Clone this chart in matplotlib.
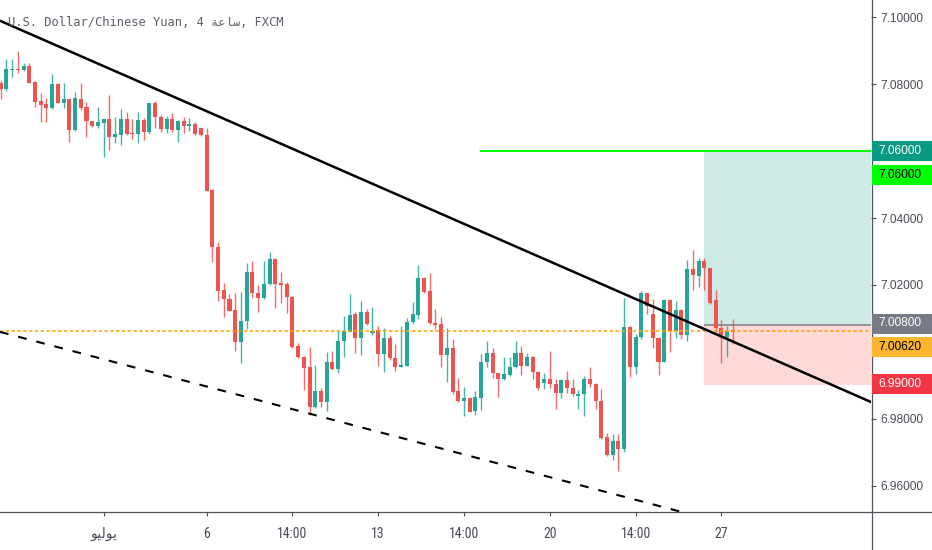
import matplotlib
matplotlib.use('Agg')
import matplotlib.pyplot as plt
import numpy as np
from matplotlib.patches import Rectangle
from matplotlib.lines import Line2D
from matplotlib import font_manager

# ---------------- data (USD/CNH, 4h candles) ----------------
opens = [7.0805, 7.0786, 7.0843, 7.0847, 7.0843, 7.0855, 7.0807, 7.0750, 7.0741, 7.0728,
         7.0802, 7.0745, 7.0755, 7.0663, 7.0757, 7.0731, 7.0690, 7.0675, 7.0685, 7.0696,
         7.0641, 7.0648, 7.0696, 7.0655, 7.0651, 7.0693, 7.0656, 7.0743, 7.0701, 7.0666,
         7.0696, 7.0663, 7.0690, 7.0676, 7.0680, 7.0668, 7.0648, 7.0484, 7.0313, 7.0185,
         7.0159, 7.0125, 7.0029, 7.0092, 7.0240, 7.0175, 7.0160, 7.0203, 7.0278, 7.0207,
         7.0204, 7.0165, 7.0017, 6.9985, 6.9955, 6.9836, 6.9883, 6.9849, 6.9970, 6.9949,
         7.0032, 7.0060, 7.0112, 7.0040, 7.0118, 7.0055, 7.0065, 6.9994, 7.0042, 6.9982,
         6.9956, 6.9959, 7.0088, 7.0110, 7.0222, 7.0182, 7.0087, 7.0083, 6.9991, 7.0011,
         6.9883, 6.9854, 6.9863, 6.9823, 6.9861, 6.9969, 6.9996, 6.9936, 6.9918, 6.9931,
         6.9954, 6.9997, 6.9959, 6.9985, 6.9941, 6.9906, 6.9919, 6.9904, 6.9878, 6.9916,
         6.9891, 6.9869, 6.9873, 6.9919, 6.9904, 6.9854, 6.9744, 6.9692, 6.9734, 6.9709,
         7.0073, 6.9956, 7.0043, 7.0175, 7.0112, 7.0042, 6.9971, 7.0155, 7.0062, 7.0125,
         7.0050, 7.0248, 7.0228, 7.0272, 7.0250, 7.0155, 7.0070, 7.0043, 7.0065]
highs = [7.0813, 7.0876, 7.0876, 7.0900, 7.0865, 7.0865, 7.0809, 7.0773, 7.0759, 7.0830,
         7.0803, 7.0803, 7.0756, 7.0776, 7.0803, 7.0748, 7.0691, 7.0731, 7.0697, 7.0768,
         7.0701, 7.0725, 7.0718, 7.0696, 7.0718, 7.0698, 7.0744, 7.0750, 7.0708, 7.0705,
         7.0715, 7.0693, 7.0701, 7.0698, 7.0688, 7.0670, 7.0668, 7.0486, 7.0328, 7.0205,
         7.0173, 7.0175, 7.0178, 7.0267, 7.0272, 7.0200, 7.0272, 7.0298, 7.0280, 7.0238,
         7.0210, 7.0167, 7.0027, 6.9986, 7.0014, 6.9961, 6.9893, 7.0000, 7.0003, 7.0062,
         7.0107, 7.0172, 7.0120, 7.0152, 7.0127, 7.0133, 7.0077, 7.0070, 7.0050, 7.0023,
         7.0077, 7.0100, 7.0150, 7.0260, 7.0225, 7.0235, 7.0127, 7.0105, 7.0070, 7.0037,
         6.9921, 6.9896, 6.9866, 6.9883, 6.9993, 7.0033, 7.0011, 6.9938, 6.9985, 6.9985,
         7.0032, 7.0017, 6.9997, 6.9987, 6.9944, 6.9938, 7.0003, 6.9918, 6.9918, 6.9944,
         6.9918, 6.9886, 6.9929, 6.9954, 6.9906, 6.9888, 6.9758, 6.9754, 6.9754, 7.0162,
         7.0077, 7.0052, 7.0182, 7.0177, 7.0158, 7.0043, 7.0157, 7.0157, 7.0152, 7.0127,
         7.0275, 7.0305, 7.0280, 7.0280, 7.0252, 7.0185, 7.0095, 7.0077, 7.0098]
lows = [7.0756, 7.0781, 7.0823, 7.0834, 7.0840, 7.0803, 7.0733, 7.0688, 7.0688, 7.0726,
        7.0743, 7.0728, 7.0628, 7.0661, 7.0723, 7.0641, 7.0673, 7.0668, 7.0584, 7.0604,
        7.0624, 7.0618, 7.0648, 7.0636, 7.0625, 7.0633, 7.0650, 7.0668, 7.0656, 7.0655,
        7.0658, 7.0628, 7.0653, 7.0660, 7.0648, 7.0646, 7.0480, 7.0270, 7.0153, 7.0103,
        7.0121, 7.0003, 6.9966, 7.0067, 7.0160, 7.0120, 7.0158, 7.0200, 7.0132, 7.0147,
        7.0115, 7.0012, 6.9982, 6.9886, 6.9811, 6.9831, 6.9836, 6.9824, 6.9947, 6.9938,
        6.9984, 7.0058, 6.9996, 6.9991, 7.0080, 7.0050, 6.9958, 6.9941, 6.9976, 6.9944,
        6.9954, 6.9957, 7.0083, 7.0098, 7.0175, 7.0083, 7.0067, 6.9956, 6.9911, 6.9874,
        6.9851, 6.9808, 6.9819, 6.9811, 6.9826, 6.9954, 6.9921, 6.9866, 6.9916, 6.9928,
        6.9952, 6.9931, 6.9958, 6.9918, 6.9886, 6.9888, 6.9891, 6.9829, 6.9861, 6.9876,
        6.9869, 6.9829, 6.9809, 6.9894, 6.9829, 6.9739, 6.9689, 6.9677, 6.9645, 6.9700,
        6.9924, 6.9934, 7.0037, 7.0113, 7.0012, 6.9931, 6.9969, 7.0000, 7.0040, 7.0038,
        7.0032, 7.0185, 7.0195, 7.0185, 7.0142, 7.0060, 6.9966, 6.9984, 7.0022]
closes = [7.0786, 7.0845, 7.0847, 7.0843, 7.0855, 7.0805, 7.0748, 7.0738, 7.0729, 7.0800,
          7.0745, 7.0755, 7.0663, 7.0759, 7.0728, 7.0689, 7.0676, 7.0687, 7.0696, 7.0641,
          7.0650, 7.0695, 7.0650, 7.0650, 7.0693, 7.0656, 7.0743, 7.0701, 7.0666, 7.0696,
          7.0663, 7.0690, 7.0676, 7.0681, 7.0650, 7.0648, 7.0482, 7.0313, 7.0183, 7.0157,
          7.0123, 7.0029, 7.0093, 7.0240, 7.0175, 7.0160, 7.0203, 7.0278, 7.0203, 7.0201,
          7.0163, 7.0014, 6.9984, 6.9953, 6.9836, 6.9883, 6.9849, 6.9970, 6.9949, 7.0032,
          7.0062, 7.0110, 7.0040, 7.0118, 7.0083, 7.0063, 6.9994, 7.0042, 6.9981, 6.9956,
          6.9961, 7.0090, 7.0112, 7.0222, 7.0180, 7.0085, 7.0080, 6.9991, 7.0011, 6.9879,
          6.9854, 6.9863, 6.9821, 6.9864, 6.9970, 6.9996, 6.9936, 6.9918, 6.9933, 6.9954,
          6.9997, 6.9959, 6.9985, 6.9941, 6.9893, 6.9919, 6.9903, 6.9878, 6.9916, 6.9891,
          6.9873, 6.9873, 6.9919, 6.9903, 6.9853, 6.9742, 6.9692, 6.9734, 6.9709, 7.0073,
          6.9956, 7.0045, 7.0175, 7.0138, 7.0040, 6.9971, 7.0155, 7.0062, 7.0125, 7.0050,
          7.0248, 7.0230, 7.0272, 7.0250, 7.0145, 7.0070, 7.0050, 7.0063, 7.0058]

# axis ticks / labels
xtick_bars = [18, 36, 51, 66, 81, 96, 111, 126]
xtick_labels = ['ﻮﻴﻟﻮﻳ', '6', '14:00', '13', '14:00', '20', '14:00', '27']
ytick_values = [7.10, 7.08, 7.04, 7.02, 6.98, 6.96]

# drawings (price levels and trend-line anchors)
target_price = 7.06
entry_price = 7.008
stop_price = 6.99
hline_price = 7.0062
green_line_start = 83.8
box_start = 122.95
upper_trend = [(0, 7.0989), (150, 6.9866)]
lower_trend = [(0, 7.0059), (110, 6.9562)]

# right-side price labels: (text, face, text colour, center px from top)
price_labels = [
    ('7.06000', '#089981', 'white', 151),
    ('7.06000', '#00ff00', 'black', 175),
    ('7.00800', '#787b86', 'white', 323.5),
    ('7.00620', '#fbb52f', 'black', 346.5),
    ('6.99000', '#f23645', 'white', 384),
]

title = 'U.S. Dollar/Chinese Yuan, 4 ' + 'ﺔﻋﺎﺳ' + ', FXCM'

# pick a narrow font for the time axis if one is installed
available = {f.name for f in font_manager.fontManager.ttflist}
narrow = [n for n in ['Liberation Sans Narrow', 'DejaVu Sans Condensed', 'Roboto Condensed']
          if n in available]
xfamily = narrow + ['DejaVu Sans']
xsize = 10 if narrow else 9.5

# ---------------- figure ----------------
W, H = 932, 550
fig = plt.figure(figsize=(W / 100, H / 100), dpi=100)
fig.patch.set_facecolor('white')
ax = fig.add_axes([0, 38 / H, 871 / W, 512 / H])
XMIN, XMAX = -0.122, 152.15
YMIN, YMAX = 6.9521, 7.1052
ax.set_xlim(XMIN, XMAX)
ax.set_ylim(YMIN, YMAX)
for s in ax.spines.values():
    s.set_visible(False)

o = np.array(opens)
hi = np.array(highs)
lo = np.array(lows)
c = np.array(closes)
x = np.arange(len(o))
up = c >= o
cols = np.where(up, '#26a69a', '#ef5350')

# position box
ax.add_patch(Rectangle((box_start, entry_price), XMAX - box_start, target_price - entry_price,
                       facecolor='#cdeae6', edgecolor='none', zorder=1))
ax.add_patch(Rectangle((box_start, stop_price), XMAX - box_start, entry_price - stop_price,
                       facecolor='#fdd9d8', edgecolor='none', zorder=1))
ax.hlines(entry_price, box_start, XMAX, color='#8a8d97', lw=1.3, zorder=2)

# candles
ax.vlines(x, lo, hi, colors=cols, lw=1.0, alpha=0.85, zorder=3)
body_b = np.minimum(o, c)
body_h = np.maximum(np.abs(c - o), 0.0003)
ax.bar(x, body_h, width=0.7, bottom=body_b, color=cols, linewidth=0, zorder=4)

# drawings
ax.axhline(hline_price, color='#ffa000', lw=1.1, ls=(0, (2.2, 1.6)), zorder=5)
ax.hlines(target_price, green_line_start, XMAX, color='#00ff00', lw=1.5, zorder=5)
ax.axline(upper_trend[0], upper_trend[1], color='black', lw=1.8, zorder=6)
ax.axline(lower_trend[0], lower_trend[1], color='black', lw=1.5, ls=(0, (4.2, 4.8)), zorder=6)

# ticks
ax.yaxis.tick_right()
ax.set_yticks(ytick_values)
ax.set_yticklabels(['%.5f' % v for v in ytick_values], family=['Liberation Sans', 'DejaVu Sans'])
ax.tick_params(axis='y', length=3.5, width=0.8, color='#50535e', pad=3, labelsize=8.6,
               labelcolor='#4a4d57')
ax.set_xticks(xtick_bars)
ax.set_xticklabels(xtick_labels, family=xfamily)
ax.tick_params(axis='x', length=3, width=0.8, color='#50535e', pad=8, labelsize=xsize,
               labelcolor='#4a4d57')

# axis frame lines (cross at bottom right)
fig.add_artist(Line2D([0, 1], [38 / H, 38 / H], transform=fig.transFigure, color='#50535e', lw=0.9))
fig.add_artist(Line2D([871.5 / W, 871.5 / W], [0, 1], transform=fig.transFigure, color='#50535e', lw=0.9))

# right-side price labels
for txt, face, tcol, cy in price_labels:
    h = 20
    fig.add_artist(Rectangle((872 / W, 1 - (cy + h / 2) / H), 60 / W, h / H,
                             transform=fig.transFigure, facecolor=face, edgecolor='none', zorder=10))
    fig.text(878 / W, 1 - cy / H, txt, color=tcol, fontsize=8.6, va='center', ha='left',
             family=['Liberation Sans', 'DejaVu Sans'], zorder=11)

# title
fig.text(8 / W, 1 - 22 / H, title, family=['DejaVu Sans Mono', 'DejaVu Sans'], fontsize=8.7,
         color='#5d606b', va='center', ha='left', zorder=12)

fig.savefig('out.png', dpi=100, facecolor='white')
